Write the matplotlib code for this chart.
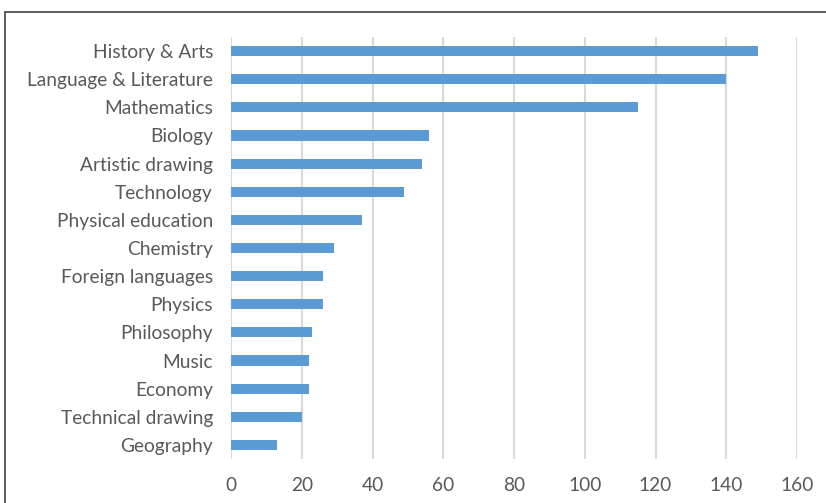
import matplotlib.pyplot as plt
from matplotlib.patches import Rectangle

subjects = ["History & Arts", "Language & Literature", "Mathematics", "Biology",
            "Artistic drawing", "Technology", "Physical education", "Chemistry",
            "Foreign languages", "Physics", "Philosophy", "Music", "Economy",
            "Technical drawing", "Geography"]
counts = [149, 140, 115, 56, 54, 49, 37, 29, 26, 26, 23, 22, 22, 20, 13]
xticks = [0, 20, 40, 60, 80, 100, 120, 140, 160]

plt.rcParams['font.family'] = ['Lato', 'DejaVu Sans']

W, H = 826, 503
fig = plt.figure(figsize=(W / 100, H / 100), dpi=100)
ax = fig.add_axes([231 / W, 1 - 459 / H, (797 - 231) / W, (459 - 37) / H])

# chart border (only top/left visible in the crop)
fig.patches.append(Rectangle((5 / W, -0.1), 1.2, 1 - 12 / H + 0.1, transform=fig.transFigure,
                             fill=False, edgecolor='#404040', linewidth=1.2))

pos = list(range(len(subjects)))
ax.barh(pos, counts, height=0.36, color='#5B9BD5', zorder=3)
ax.set_ylim(len(subjects) - 0.5, -0.5)
ax.set_xlim(0, 160)
ax.set_xticks(xticks)
ax.set_yticks(pos)
ax.set_yticklabels(subjects)

ax.grid(axis='x', color='#D9D9D9', linewidth=1.5, zorder=0)
for s in ax.spines.values():
    s.set_visible(False)
ax.tick_params(axis='both', length=0, labelsize=13.8, colors='#595959')
ax.tick_params(axis='x', pad=13)
ax.tick_params(axis='y', pad=13)

fig.savefig('out.png', dpi=100)
